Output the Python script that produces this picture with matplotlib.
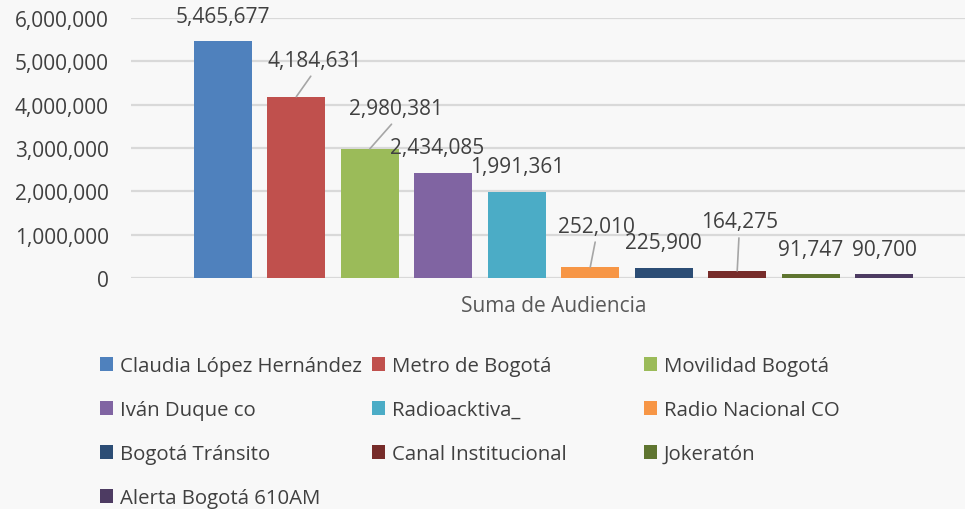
import matplotlib
matplotlib.use('Agg')
import matplotlib.pyplot as plt
from matplotlib.patches import Patch

plt.rcParams['font.family'] = ['Open Sans', 'DejaVu Sans']

# datos
nombres = ['Claudia López Hernández', 'Metro de Bogotá', 'Movilidad Bogotá',
           'Iván Duque co', 'Radioacktiva_', 'Radio Nacional CO',
           'Bogotá Tránsito', 'Canal Institucional', 'Jokeratón',
           'Alerta Bogotá 610AM']
audiencia = [5465677, 4184631, 2980381, 2434085, 1991361,
             252010, 225900, 164275, 91747, 90700]
categoria = 'Suma de Audiencia'
colores = ['#4F81BD', '#C0504D', '#9BBB59', '#8064A2', '#4BACC6',
           '#F79646', '#2C4D75', '#772C2A', '#5F7530', '#4D3B62']

# desplazamiento de etiquetas (pixeles) y si llevan linea guia
desp = [(0, 25), (18, 36), (26, 40), (-6, 25), (0, 25),
        (6, 41), (0, 26), (2, 49), (0, 25), (0, 25)]
guia = [False, True, True, False, False, True, False, True, False, False]

texto = '#404040'
fondo = '#f8f8f8'
W, H = 965, 510

fig = plt.figure(figsize=(W / 100, H / 100), dpi=100, facecolor=fondo)
ax = fig.add_axes([131 / W, (H - 279) / H, 1 - 131 / W, 260 / H])
ax.set_facecolor(fondo)

x = list(range(len(audiencia)))
ax.bar(x, audiencia, width=0.79, color=colores, zorder=3)
ax.set_xlim(-1.25, 10.1)
ax.set_ylim(0, 6000000)
ax.set_yticks(range(0, 6000001, 1000000))
ax.yaxis.set_major_formatter(matplotlib.ticker.StrMethodFormatter('{x:,.0f}'))
ax.set_xticks([(len(x) - 1) / 2])
ax.set_xticklabels([categoria])
ax.tick_params(axis='y', length=0, pad=16, labelsize=15, labelcolor=texto)
ax.tick_params(axis='x', length=0, pad=12, labelsize=15, labelcolor='#595959')
ax.grid(axis='y', color='#d9d9d9', linewidth=1.6, zorder=0)
for s in ax.spines.values():
    s.set_visible(False)

for i, v in enumerate(audiencia):
    props = None
    if guia[i]:
        props = dict(arrowstyle='-', color='#a6a6a6', lw=1.2,
                     relpos=(0.5, 0), shrinkA=2, shrinkB=0)
    ax.annotate(f'{v:,}', xy=(i, v), xytext=desp[i], textcoords='offset pixels',
                ha='center', va='center', fontsize=15, color=texto,
                arrowprops=props, zorder=4)

# leyenda en tres columnas, orden por filas como Excel
handles = [Patch(facecolor=c) for c in colores]
col_x = [100, 372, 644]
for c in range(3):
    idx = list(range(c, len(nombres), 3))
    fig.legend([handles[k] for k in idx], [nombres[k] for k in idx],
               loc='upper left', bbox_to_anchor=(col_x[c] / W, 1 - 357 / H),
               frameon=False, fontsize=14.7, borderpad=0, borderaxespad=0,
               handlelength=0.64, handleheight=0.64, handletextpad=0.33,
               labelspacing=1.18, labelcolor=texto)

fig.savefig('out.png', dpi=100, facecolor=fondo)
